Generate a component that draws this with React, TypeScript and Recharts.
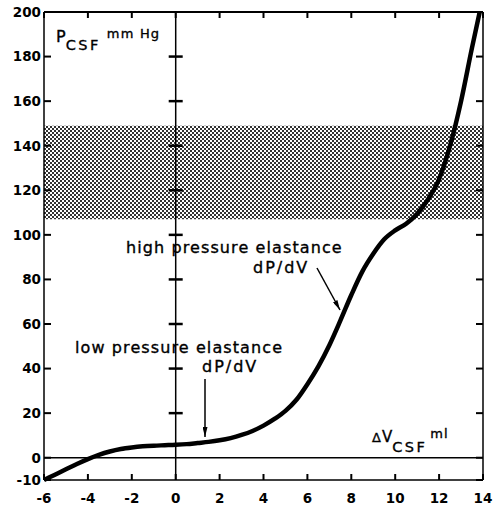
import { ComposedChart, Line, Scatter, XAxis, YAxis, ReferenceLine, ReferenceArea } from 'recharts';

// volume change (ml) and CSF pressure (mm Hg)
const volume = [
  -6, -5.5, -5, -4.5, -4, -3.5, -3, -2.5, -2, -1.5, -1, -0.5, 0, 0.5, 1, 1.5, 2, 2.5, 3, 3.5,
  4, 4.5, 5, 5.5, 6, 6.5, 7, 7.5, 8, 8.5, 9, 9.5, 10, 10.5, 11, 11.5, 12, 12.5, 13, 13.5, 13.85,
];
const pressure = [
  -10, -7.6, -5.2, -2.8, -0.6, 1.3, 2.8, 3.9, 4.6, 5.1, 5.4, 5.6, 5.8, 6.1, 6.6, 7.1, 7.8, 8.8, 10.2, 12,
  14.4, 17.4, 21, 26, 33, 41, 50.5, 61.5, 73, 83.5, 91.5, 98, 102, 105, 109.5, 116, 125, 140, 160, 184, 200,
];

const xTicks = [-6, -4, -2, 0, 2, 4, 6, 8, 10, 12, 14];
const yTicks = [-10, 0, 20, 40, 60, 80, 100, 120, 140, 160, 180, 200];
const zeroAxisTicks = [20, 40, 60, 80, 100, 120, 140, 160, 180];
const normalBand = [107, 149];

const X_MIN = -6, X_MAX = 14, Y_MIN = -10, Y_MAX = 200;

const data = volume.map((v, i) => ({ v, p: pressure[i] }));

// tick positions on the frame and on the zero axis
const crossMarks = zeroAxisTicks.map((p) => ({ v: 0, p }));
const leftMarks = yTicks.map((p) => ({ v: X_MIN, p }));
const rightMarks = yTicks.map((p) => ({ v: X_MAX, p }));
const bottomMarks = xTicks.map((v) => ({ v, p: Y_MIN }));
const topMarks = xTicks.map((v) => ({ v, p: Y_MAX }));

const font = '"DejaVu Sans", sans-serif';
const axisStroke = { stroke: '#000', strokeWidth: 1.5 };
const tickFont = { fill: '#000', fontSize: 13.5, fontFamily: font, fontWeight: 'bold' };

function CrossTick(props: any) {
  return <path d={`M${props.cx - 7},${props.cy}L${props.cx + 7},${props.cy}`} stroke="#000" strokeWidth={2.5} fill="none" />;
}
function LeftTick(props: any) {
  return <path d={`M${props.cx},${props.cy}L${props.cx + 7},${props.cy}`} stroke="#000" strokeWidth={2} fill="none" />;
}
function RightTick(props: any) {
  return <path d={`M${props.cx - 7},${props.cy}L${props.cx},${props.cy}`} stroke="#000" strokeWidth={2} fill="none" />;
}
function BottomTick(props: any) {
  return <path d={`M${props.cx},${props.cy - 6}L${props.cx},${props.cy}`} stroke="#000" strokeWidth={2} fill="none" />;
}
function TopTick(props: any) {
  return <path d={`M${props.cx},${props.cy}L${props.cx},${props.cy + 6}`} stroke="#000" strokeWidth={2} fill="none" />;
}

export default function App() {
  return (
    <div style={{ position: 'absolute', left: 0, top: 0, background: '#fff' }}>
      <ComposedChart width={500} height={510} data={data} margin={{ top: 12, right: 17, bottom: 0, left: 0 }}>
        <defs>
          <pattern id="halftone" width="4" height="4" patternUnits="userSpaceOnUse">
            <rect x="0" y="0" width="2" height="2" fill="#333" />
            <rect x="2" y="2" width="2" height="2" fill="#333" />
          </pattern>
          <marker id="arrowHead" viewBox="0 0 10 5" refX="10" refY="2.5" markerWidth="10" markerHeight="5"
            markerUnits="userSpaceOnUse" orient="auto">
            <path d="M0,0 L10,2.5 L0,5 z" fill="#000" />
          </marker>
        </defs>
        <XAxis
          dataKey="v"
          type="number"
          domain={[X_MIN, X_MAX]}
          ticks={xTicks}
          height={30}
          tickSize={0}
          tickMargin={13}
          axisLine={axisStroke}
          tickLine={false}
          tick={tickFont}
        />
        <YAxis
          dataKey="p"
          type="number"
          domain={[Y_MIN, Y_MAX]}
          ticks={yTicks}
          width={44}
          tickSize={0}
          tickMargin={3}
          axisLine={axisStroke}
          tickLine={false}
          tick={tickFont}
        />
        <ReferenceArea y1={normalBand[0]} y2={normalBand[1]} fill="url(#halftone)" fillOpacity={1} stroke="none" />
        <ReferenceLine y={0} stroke="#000" strokeWidth={1.5} />
        <ReferenceLine x={0} stroke="#000" strokeWidth={1.5} />
        <ReferenceLine y={Y_MAX} stroke="#000" strokeWidth={2} />
        <ReferenceLine x={X_MAX} stroke="#000" strokeWidth={1.5} />

        <Scatter data={crossMarks} dataKey="p" shape={CrossTick} isAnimationActive={false} />
        <Scatter data={leftMarks} dataKey="p" shape={LeftTick} isAnimationActive={false} />
        <Scatter data={rightMarks} dataKey="p" shape={RightTick} isAnimationActive={false} />
        <Scatter data={bottomMarks} dataKey="p" shape={BottomTick} isAnimationActive={false} />
        <Scatter data={topMarks} dataKey="p" shape={TopTick} isAnimationActive={false} />

        <Line
          type="monotone"
          dataKey="p"
          stroke="#000"
          strokeWidth={4.5}
          dot={false}
          activeDot={false}
          isAnimationActive={false}
        />

        <text x={56} y={42} fontFamily={font} fill="#000" stroke="#000" strokeWidth={0.35}>
          <tspan fontSize={16}>P</tspan>
          <tspan fontSize={14.5} dy={8} letterSpacing={2.5}>CSF</tspan>
          <tspan fontSize={13} dx={6} dy={-12} letterSpacing={1.2}>mm Hg</tspan>
        </text>
        <text x={372} y={442} fontFamily={font} fill="#000" stroke="#000" strokeWidth={0.35}>
          <tspan fontSize={13}>Δ</tspan>
          <tspan fontSize={15} dx={1}>V</tspan>
          <tspan fontSize={14.5} dy={10} letterSpacing={2.5}>CSF</tspan>
          <tspan fontSize={13} dx={3} dy={-14} letterSpacing={1}>ml</tspan>
        </text>
        <text x={126} y={253} fontFamily={font} fontSize={16} letterSpacing={1.1} fill="#000" stroke="#000" strokeWidth={0.35}>high pressure elastance</text>
        <text x={253} y={273} fontFamily={font} fontSize={16} letterSpacing={2} fill="#000" stroke="#000" strokeWidth={0.35}>dP/dV</text>
        <text x={75} y={353} fontFamily={font} fontSize={16} letterSpacing={1.1} fill="#000" stroke="#000" strokeWidth={0.35}>low pressure elastance</text>
        <text x={202} y={372} fontFamily={font} fontSize={16} letterSpacing={2} fill="#000" stroke="#000" strokeWidth={0.35}>dP/dV</text>
        <line x1={317} y1={268} x2={340} y2={310} stroke="#000" strokeWidth={1.5} markerEnd="url(#arrowHead)" />
        <line x1={205} y1={379} x2={205} y2={437} stroke="#000" strokeWidth={1.5} markerEnd="url(#arrowHead)" />
      </ComposedChart>
    </div>
  );
}
